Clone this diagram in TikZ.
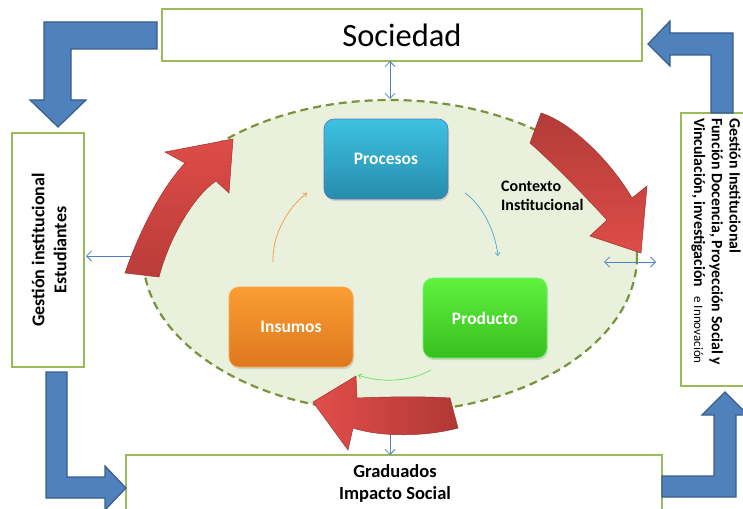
\documentclass[tikz,border=0pt]{standalone}
\usepackage{fontspec}
\setmainfont{Carlito}
\usetikzlibrary{arrows.meta,shapes.geometric,shadows}
\definecolor{boxgreen}{HTML}{9BBB59}
\definecolor{ellfill}{HTML}{E9F0DC}
\definecolor{elldraw}{HTML}{77933C}
\definecolor{bluefill}{HTML}{4F81BD}
\definecolor{bluedraw}{HTML}{385D8A}
\definecolor{thinblue}{HTML}{4F81BD}
\definecolor{redout}{HTML}{A3302D}
\begin{document}
\begin{tikzpicture}[x=1pt,y=-1pt,
  framebox/.style={draw=boxgreen, line width=2pt, fill=white, inner sep=0pt, outer sep=0pt},
  bentarrow/.style={fill=bluefill, draw=bluedraw, line width=1.2pt, line join=miter},
  redarrow/.style={draw=redout, line width=0.5pt, line join=miter},
  roundbox/.style={rounded corners=10pt, minimum width=124pt, minimum height=80pt, inner sep=0pt,
     text=white, font=\fontsize{17.5}{20}\selectfont\bfseries, line width=0.6pt,
     drop shadow={shadow xshift=1pt, shadow yshift=-2pt, opacity=0.25}},
  dbl/.style={draw=thinblue, line width=0.8pt, {Straight Barb[length=5pt,width=10pt]}-{Straight Barb[length=5pt,width=10pt]}},
  thin/.style={line width=0.7pt, -{Straight Barb[length=3pt,width=5pt]}}
]
\useasboundingbox (0,0) rectangle (743,508);
\clip (0,0) rectangle (743,508);

% context ellipse
\node[ellipse, draw=elldraw, fill=ellfill, line width=2.2pt, dash pattern=on 8pt off 5pt,
      minimum width=494pt, minimum height=312pt, inner sep=0pt] (ell) at (390,256) {};

% frames
\node[framebox, minimum width=480pt, minimum height=52pt] (soc) at (402,35)
   {\fontsize{32.5}{38}\selectfont Sociedad};
\node[framebox, minimum width=72pt, minimum height=234pt] (lbox) at (48,250) {};
\node[framebox, minimum width=90pt, minimum height=273pt] (rbox) at (726,249.5) {};
\node[framebox, minimum width=536pt, minimum height=80pt] (gbox) at (394,495) {};

\node[rotate=90, align=center, inner sep=0pt, font=\fontsize{18}{22}\selectfont\bfseries] (ltext) at (49,250)
   {Gestión institucional\\Estudiantes};
\node[rotate=-90, anchor=north west, align=left, inner sep=0pt, font=\fontsize{15.8}{17.8}\selectfont\bfseries] (rtext) at (741,118)
   {Gestión Institucional\\Función Docencia, Proyección Social y\\Vinculación, investigación {\mdseries\fontsize{13}{17.8}\selectfont\ \ e Innovación}};
\node[align=center, inner sep=0pt, font=\fontsize{18.5}{22}\selectfont\bfseries] (gtext) at (395,483)
   {Graduados\\Impacto Social};

% inner boxes
\node[roundbox, draw=white!60!cyan!50!blue, top color={rgb,255:red,62;green,194;blue,226}, bottom color={rgb,255:red,38;green,140;blue,172}] (proc) at (386,159) {Procesos};
\node[roundbox, draw=orange!70!white, top color={rgb,255:red,250;green,157;blue,50}, bottom color={rgb,255:red,222;green,120;blue,30}] (ins) at (291,327) {Insumos};
\node[roundbox, draw=green!60!white, top color={rgb,255:red,95;green,242;blue,62}, bottom color={rgb,255:red,56;green,190;blue,32}] (prod) at (485,318) {Producto};

\node[align=left, anchor=west, inner sep=0pt, font=\fontsize{16}{19}\selectfont\bfseries] (ctx) at (501,196)
   {Contexto\\Institucional};

% thin cycle arrows
\coordinate (o1) at (273,262); \coordinate (o2) at (307,193);
\coordinate (b1) at (465,193); \coordinate (b2) at (498,256);
\coordinate (g1) at (431,370); \coordinate (g2) at (358,375);
\draw[thin, draw={rgb,255:red,247;green,150;blue,70}] (o1) .. controls (272,238) and (285,210) .. (o2);
\draw[thin, draw={rgb,255:red,75;green,172;blue,198}] (b1) .. controls (482,205) and (495,230) .. (b2);
\draw[thin, draw={rgb,255:red,100;green,230;blue,90}] (g1) .. controls (410,382) and (380,383) .. (g2);

% double arrows
\draw[dbl] (ell.north |- soc.south) -- (ell.north);
\coordinate (lA) at (86,256); \coordinate (lB) at (140,256);
\draw[dbl] (lA) -- (lB);
\coordinate (rA) at (604,262); \coordinate (rB) at (656,262);
\draw[dbl] (rA) -- (rB);
\draw[dbl] (ell.south) -- (ell.south |- gbox.north);

% red curved arrows
\shade[redarrow, top color={rgb,255:red,222;green,76;blue,72}, bottom color={rgb,255:red,186;green,60;blue,57}]
  (125,273) .. controls (138,235) and (160,190) .. (185,163) -- (165,152) -- (233,139) -- (229,193) -- (216,181)
  .. controls (195,195) and (170,235) .. (159,277) -- cycle;
\shade[redarrow, top color={rgb,255:red,178;green,60;blue,56}, bottom color={rgb,255:red,222;green,76;blue,72}]
  (541,113) .. controls (570,122) and (610,160) .. (632,198) -- (647,186) -- (641,253) -- (590,236) -- (607,220)
  .. controls (585,196) and (555,165) .. (530,143) -- cycle;
\shade[redarrow, left color={rgb,255:red,226;green,78;blue,75}, right color={rgb,255:red,176;green,56;blue,53}]
  (450,398) .. controls (420,396) and (380,397) .. (357,398) -- (356,376) -- (313,402) -- (348,450) -- (353,428)
  .. controls (380,437) and (425,437) .. (458,428) -- cycle;

% blue bent arrows
\draw[bentarrow] (157,22) -- (44,22) -- (44,100) -- (30,100) -- (58,127) -- (86,100) -- (71,100) -- (71,49) -- (157,49) -- cycle;
\draw[bentarrow] (46,372) -- (67,372) -- (67,477) -- (105,477) -- (105,466) -- (126,488) -- (105,510) -- (105,498) -- (46,498) -- cycle;
\draw[bentarrow] (662,476) -- (714,476) -- (714,415) -- (702,415) -- (725,392) -- (748,415) -- (736,415) -- (736,497) -- (662,497) -- cycle;
\draw[bentarrow] (711,113) -- (711,55) -- (670,55) -- (670,66) -- (648,44) -- (670,21) -- (670,33) -- (733,33) -- (733,113) -- cycle;
\end{tikzpicture}
\end{document}
